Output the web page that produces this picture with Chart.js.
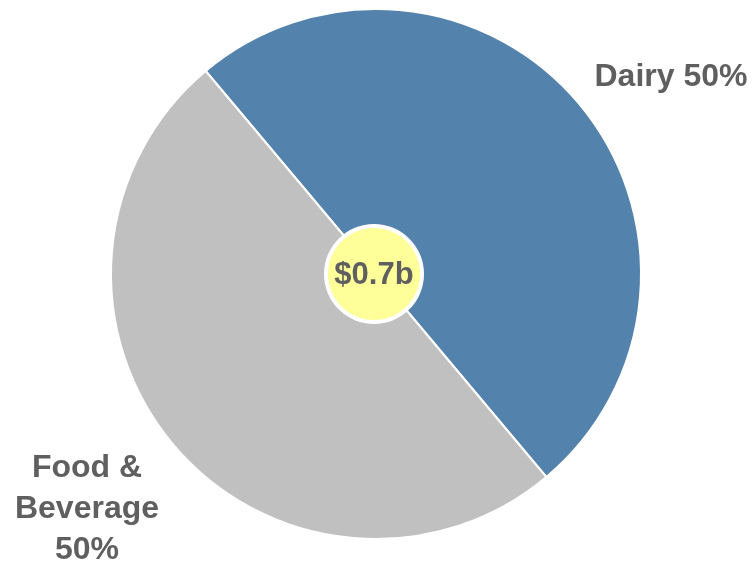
<!DOCTYPE html>
<html>
<head>
<meta charset="utf-8">
<script src="https://cdn.jsdelivr.net/npm/chart.js@4/dist/chart.umd.min.js"></script>
<style>
  html, body { margin: 0; padding: 0; background: #fff; }
  #wrap { width: 755px; height: 565px; position: relative; }
</style>
</head>
<body>
<div id="wrap"><canvas id="grafico"></canvas></div>
<script>
var categorias = ['Dairy', 'Food & Beverage'];
var porcentajes = [50, 50];
var total = '$0.7b';
var colores = ['#5383AD', '#C0C0C0'];

// label lines and anchor points for each slice
var etiquetas = [
    { lineas: ['Dairy 50%'], x: 671, y: 77 },
    { lineas: ['Food &', 'Beverage', '50%'], x: 87, y: 468 }
];

var textoGris = '#5F5F5F';

var centroPlugin = {
    id: 'centro',
    afterDraw: function(chart) {
        var ctx = chart.ctx;
        var arc = chart.getDatasetMeta(0).data[0];
        var cx = arc.x, cy = arc.y;
        ctx.save();
        // white ring + yellow disc
        ctx.beginPath();
        ctx.arc(cx - 2, cy, 50, 0, Math.PI * 2);
        ctx.fillStyle = '#FFFFFF';
        ctx.fill();
        ctx.beginPath();
        ctx.arc(cx - 2, cy, 46, 0, Math.PI * 2);
        ctx.fillStyle = '#FFFF99';
        ctx.fill();
        ctx.fillStyle = textoGris;
        ctx.font = 'bold 31px "Liberation Sans", Arial, sans-serif';
        ctx.textAlign = 'center';
        ctx.textBaseline = 'middle';
        ctx.fillText(total, cx - 2, cy + 1);

        ctx.font = 'bold 32px "Liberation Sans", Arial, sans-serif';
        etiquetas.forEach(function(e) {
            e.lineas.forEach(function(l, i) {
                ctx.fillText(l, e.x, e.y + i * 41);
            });
        });
        ctx.restore();
    }
};

var ctx = document.getElementById('grafico').getContext('2d');
var grafico = new Chart(ctx, {
    type: 'pie',
    data: {
        labels: categorias,
        datasets: [{
            data: porcentajes,
            backgroundColor: colores,
            borderColor: '#FFFFFF',
            borderWidth: 2
        }]
    },
    options: {
        responsive: true,
        maintainAspectRatio: false,
        animation: false,
        rotation: -40,
        layout: { padding: { left: 110, right: 113, top: 8, bottom: 25 } },
        plugins: {
            legend: { display: false },
            tooltip: { enabled: false }
        }
    },
    plugins: [centroPlugin]
});
</script>
</body>
</html>
